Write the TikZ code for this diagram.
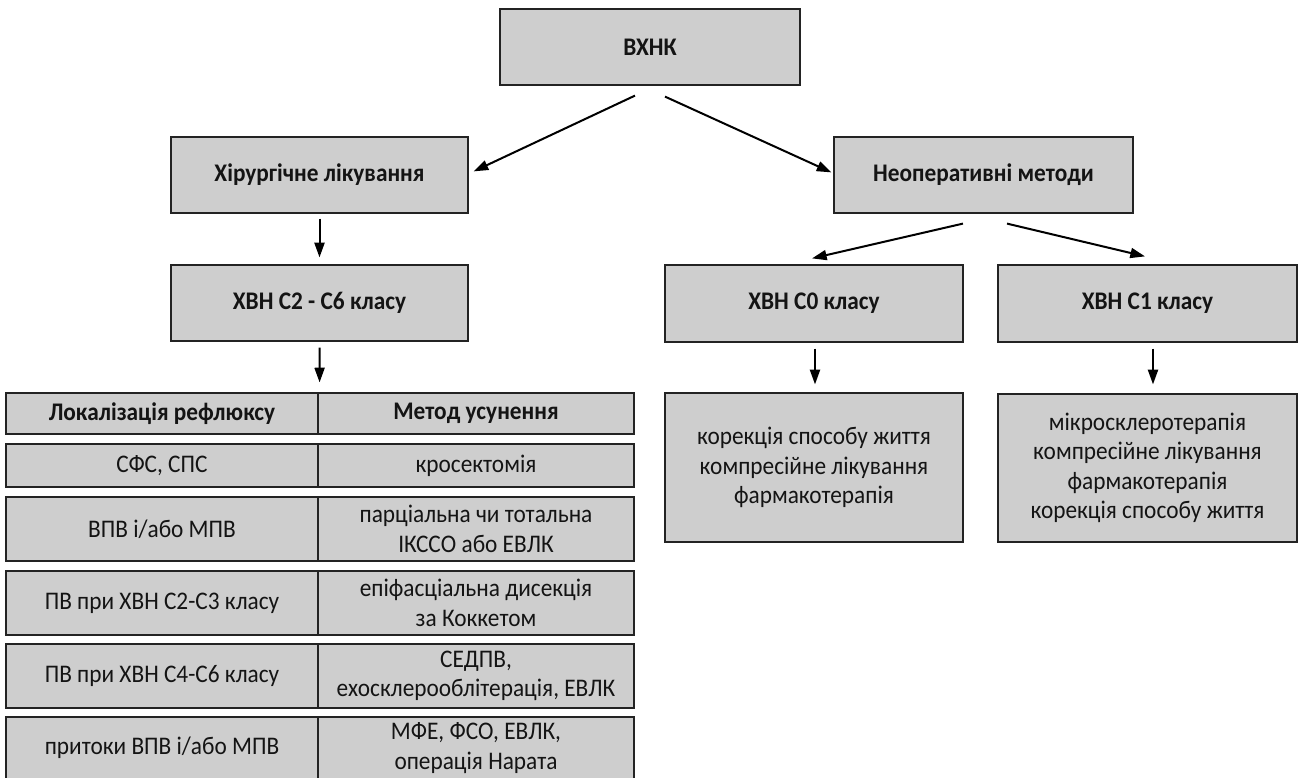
\documentclass[tikz,border=0pt]{standalone}
\usepackage{fontspec}
\setmainfont{Carlito}[FakeStretch=0.92]
\usetikzlibrary{arrows.meta,calc}
\definecolor{boxfill}{RGB}{206,206,206}
\definecolor{boxline}{RGB}{35,35,35}
\definecolor{txt}{RGB}{20,20,20}
\tikzset{
  box/.style={draw=boxline, fill=boxfill, line width=0.9pt, align=center, inner sep=0pt, text=txt,
    font=\fontsize{19}{22}\selectfont},
  bbox/.style={box, font=\fontsize{19}{22}\selectfont\bfseries},
  wh/.style 2 args={minimum width=#1*0.75pt, minimum height=#2*0.75pt},
  arr/.style={-{Triangle[length=11pt,width=7.5pt]}, line width=1.5pt, draw=black},
}
\begin{document}
\begin{tikzpicture}[x=0.75pt,y=-0.75pt]
\useasboundingbox (0,0) rectangle (1300,778);
% top level
\node[bbox, wh={300}{76}] (top) at (650,47) {ВХНК};
\node[bbox, wh={297}{76}] (surg) at (319.5,175) {Хірургічне лікування};
\node[bbox, wh={299}{76}] (nonop) at (983.5,175) {Неоперативні методи};
\node[bbox, wh={297}{76}] (c26) at (319.5,303) {ХВН С2 - С6 класу};
\node[bbox, wh={298}{77}] (c0) at (814,303.5) {ХВН С0 класу};
\node[bbox, wh={299}{77}] (c1) at (1147.5,303.5) {ХВН С1 класу};
\node[box, wh={298}{149}] (c0l) at (814,467.5) {корекція способу життя\\компресійне лікування\\фармакотерапія};
\node[box, wh={299}{148}] (c1l) at (1147.5,468) {мікросклеротерапія\\компресійне лікування\\фармакотерапія\\корекція способу життя};
% table
\node[bbox, wh={312}{41}] (h1) at (162,413.5) {Локалізація рефлюксу};
\node[bbox, wh={316}{41}] (h2) at (476,413.5) {Метод усунення};
\node[box, wh={312}{43}] (r1a) at (162,465.5) {СФС, СПС};
\node[box, wh={316}{43}] (r1b) at (476,465.5) {кросектомія};
\node[box, wh={312}{64}] (r2a) at (162,529) {ВПВ і/або МПВ};
\node[box, wh={316}{64}] (r2b) at (476,529) {парціальна чи тотальна\\ІКССО або ЕВЛК};
\node[box, wh={312}{64}] (r3a) at (162,603) {ПВ при ХВН С2-С3 класу};
\node[box, wh={316}{64}] (r3b) at (476,603) {епіфасціальна дисекція\\за Коккетом};
\node[box, wh={312}{64}] (r4a) at (162,676) {ПВ при ХВН С4-С6 класу};
\node[box, wh={316}{64}] (r4b) at (476,676) {СЕДПВ,\\ехосклерооблітерація, ЕВЛК};
\node[box, wh={312}{62}] (r5a) at (162,748) {притоки ВПВ і/або МПВ};
\node[box, wh={316}{62}] (r5b) at (476,748) {МФЕ, ФСО, ЕВЛК,\\операція Нарата};
% connector endpoints
\coordinate (t1) at ($(top.south)+(-15,10)$);
\coordinate (t2) at ($(top.south)+(15,11)$);
\coordinate (s1) at ($(surg.north east)+(5,35)$);
\coordinate (n1) at ($(nonop.north west)+(-2,36)$);
\coordinate (n2) at ($(nonop.south)+(-20.5,10)$);
\coordinate (n3) at ($(nonop.south)+(23.5,10)$);
\coordinate (e0) at ($(c0.north)+(-2,-6)$);
\coordinate (e1) at ($(c1.north)+(-2.5,-8)$);
\draw[arr] (t1) -- (s1);
\draw[arr] (t2) -- (n1);
\draw[arr] (n2) -- (e0);
\draw[arr] (n3) -- (e1);
\draw[arr] ($(surg.south)+(0,5)$) -- ($(c26.north)+(0,-7)$);
\draw[arr] ($(c26.south)+(0,6)$) -- ($(h1.north east)+(1,-10)$);
\draw[arr] ($(c0.south)+(1,6)$) -- ($(c0l.north)+(1,-8)$);
\draw[arr] ($(c1.south)+(5.5,6)$) -- ($(c1l.north)+(5.5,-9)$);
\end{tikzpicture}
\end{document}
